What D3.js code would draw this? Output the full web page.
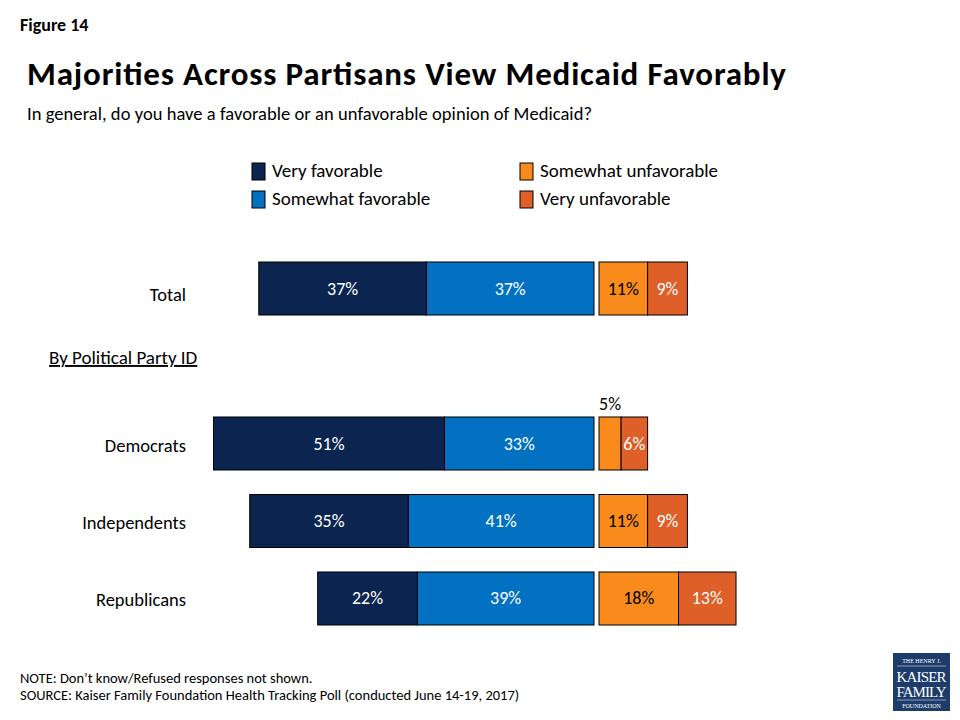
<!DOCTYPE html>
<html lang="en">
<head>
<meta charset="UTF-8">
<title>Figure 14</title>
<script src="https://d3js.org/d3.v7.min.js"></script>
<style>
  body { margin: 0; background: #fff; }
  svg { font-family: Carlito, Lato, "Open Sans", sans-serif; }
</style>
</head>
<body>
<svg id="canvas"></svg>
<script>
let width = 960
let height = 720

// data
let categories = ["Total", "Democrats", "Independents", "Republicans"]
let veryFav = [37, 51, 35, 22]
let somewhatFav = [37, 33, 41, 39]
let somewhatUnfav = [11, 5, 11, 18]
let veryUnfav = [9, 6, 9, 13]
let seriesNames = ["Very favorable", "Somewhat favorable", "Somewhat unfavorable", "Very unfavorable"]
let seriesColors = ["#0b2550", "#0371c1", "#f98b1c", "#de5f28"]

let svg = d3.select("#canvas")
  .attr("width", width)
  .attr("height", height)

// headings
svg.append("text").attr("x", 20).attr("y", 31)
  .attr("font-size", 18).attr("font-weight", "bold").text("Figure 14")
svg.append("text").attr("x", 27).attr("y", 85)
  .attr("font-size", 33).attr("font-weight", "bold")
  .attr("textLength", 759).attr("lengthAdjust", "spacing")
  .text("Majorities Across Partisans View Medicaid Favorably")
svg.append("text").attr("x", 27).attr("y", 120)
  .attr("font-size", 18.5)
  .attr("textLength", 565).attr("lengthAdjust", "spacing")
  .text("In general, do you have a favorable or an unfavorable opinion of Medicaid?")

// scales - a spacer row sits between Total and the party rows
let rows = ["Total", "gap", "Democrats", "Independents", "Republicans"]
let yScale = d3.scaleBand()
  .domain(rows)
  .range([262, 625])
  .paddingInner(0.316)
  .paddingOuter(0)

let xFav = d3.scaleLinear().domain([0, 100]).range([594, 594 - 453])
let xUnf = d3.scaleLinear().domain([0, 100]).range([599, 599 + 442])

// one row per category, segments stacked out from the middle
let rowData = categories.map((c, i) => {
  let segs = []
  // favorable go left
  segs.push({ cat: c, s: 1, v: somewhatFav[i], x0: xFav(somewhatFav[i]), x1: xFav(0) })
  segs.push({ cat: c, s: 0, v: veryFav[i], x0: xFav(somewhatFav[i] + veryFav[i]), x1: xFav(somewhatFav[i]) })
  // unfavorable go right
  segs.push({ cat: c, s: 2, v: somewhatUnfav[i], x0: xUnf(0), x1: xUnf(somewhatUnfav[i]) })
  segs.push({ cat: c, s: 3, v: veryUnfav[i], x0: xUnf(somewhatUnfav[i]), x1: xUnf(somewhatUnfav[i] + veryUnfav[i]) })
  return segs
})
let segments = rowData.flat()

svg.append("g").selectAll("rect")
  .data(segments)
  .enter()
  .append("rect")
  .attr("x", d => d.x0)
  .attr("y", d => yScale(d.cat))
  .attr("width", d => d.x1 - d.x0)
  .attr("height", yScale.bandwidth())
  .attr("fill", d => seriesColors[d.s])
  .attr("stroke", "#000")
  .attr("stroke-width", 1)

svg.append("g").selectAll("text")
  .data(segments)
  .enter()
  .append("text")
  .attr("x", d => (d.x0 + d.x1) / 2)
  .attr("y", d => d.v < 6 ? yScale(d.cat) - 7 : yScale(d.cat) + yScale.bandwidth() / 2 + 6)
  .attr("text-anchor", "middle")
  .attr("font-size", 18)
  .attr("fill", d => (d.v < 6 || d.s == 2) ? "#000" : "#fff")
  .text(d => d.v + "%")

// category labels
svg.append("g").selectAll("text")
  .data(categories)
  .enter()
  .append("text")
  .attr("x", 186)
  .attr("y", d => yScale(d) + yScale.bandwidth() / 2 + (d == "Total" ? 12 : 8))
  .attr("text-anchor", "end")
  .attr("font-size", 18.5)
  .text(d => d)

svg.append("text").attr("x", 49).attr("y", 364)
  .attr("font-size", 19).attr("text-decoration", "underline")
  .text("By Political Party ID")

// legend
let legend = svg.append("g").selectAll("g")
  .data(seriesNames)
  .enter()
  .append("g")
  .attr("transform", (d, i) => "translate(" + (i < 2 ? 252 : 520) + "," + (163 + (i % 2) * 28) + ")")
legend.append("rect")
  .attr("width", 13).attr("height", 17)
  .attr("fill", (d, i) => seriesColors[i])
  .attr("stroke", "#000")
legend.append("text")
  .attr("x", 20).attr("y", 14)
  .attr("font-size", 19)
  .text(d => d)

// notes
svg.append("text").attr("x", 20).attr("y", 683).attr("font-size", 14.5)
  .text("NOTE: Don\u2019t know/Refused responses not shown.")
svg.append("text").attr("x", 20).attr("y", 700).attr("font-size", 14.5)
  .text("SOURCE: Kaiser Family Foundation Health Tracking Poll (conducted June 14-19, 2017)")

// logo
let logo = svg.append("g").attr("transform", "translate(893,653)")
  .attr("font-family", "'Liberation Serif', 'DejaVu Serif', serif")
  .attr("fill", "#fff")
  .attr("text-anchor", "middle")
logo.append("rect").attr("width", 57).attr("height", 58).attr("fill", "#1d3c6b")
logo.append("text").attr("x", 28.5).attr("y", 10).attr("font-size", 6).text("THE HENRY J.")
logo.append("line").attr("x1", 4).attr("x2", 53).attr("y1", 13).attr("y2", 13).attr("stroke", "#fff").attr("stroke-width", 0.5)
logo.append("text").attr("x", 28.5).attr("y", 29).attr("font-size", 15).attr("textLength", 50).text("KAISER")
logo.append("text").attr("x", 28.5).attr("y", 44).attr("font-size", 15).attr("textLength", 50).text("FAMILY")
logo.append("line").attr("x1", 4).attr("x2", 53).attr("y1", 47).attr("y2", 47).attr("stroke", "#fff").attr("stroke-width", 0.5)
logo.append("text").attr("x", 28.5).attr("y", 55).attr("font-size", 6).text("FOUNDATION")
</script>
</body>
</html>
